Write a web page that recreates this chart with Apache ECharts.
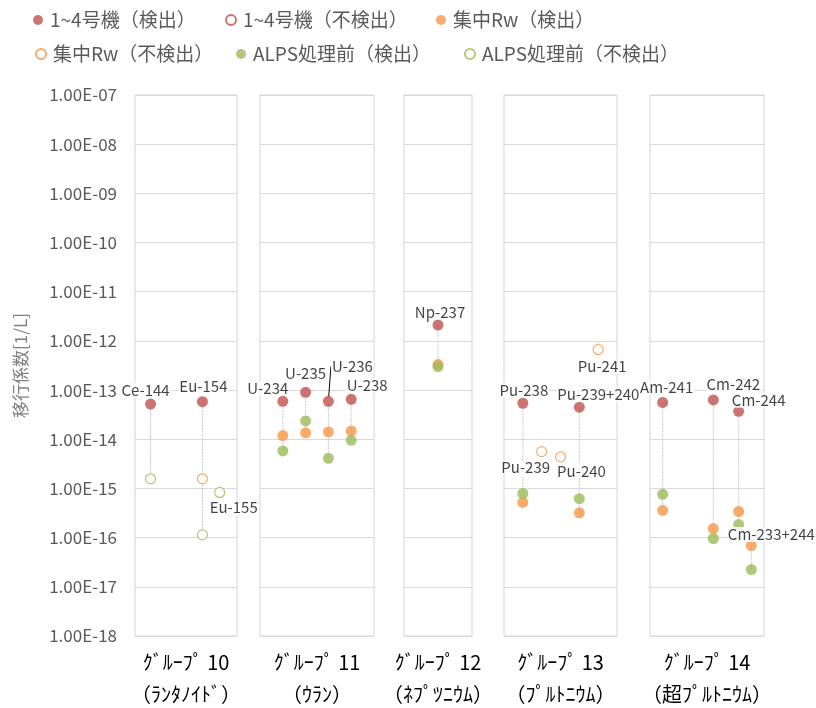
<!DOCTYPE html>
<html><head><meta charset="utf-8">
<script src="https://cdn.jsdelivr.net/npm/echarts@6/dist/echarts.min.js"></script>
<style>html,body{margin:0;padding:0;background:#fff}#c{width:816px;height:708px}</style>
</head><body><div id="c"></div>
<script>
// ---------------- data ----------------
const groupNames = ['ｸﾞﾙｰﾌﾟ 10', 'ｸﾞﾙｰﾌﾟ 11', 'ｸﾞﾙｰﾌﾟ 12', 'ｸﾞﾙｰﾌﾟ 13', 'ｸﾞﾙｰﾌﾟ 14'];
const groupSubNames = ['（ﾗﾝﾀﾉｲﾄﾞ）', '（ｳﾗﾝ）', '（ﾈﾌﾟﾂﾆｳﾑ）', '（ﾌﾟﾙﾄﾆｳﾑ）', '（超ﾌﾟﾙﾄﾆｳﾑ）'];
const nuclides = ['Ce-144', 'Eu-154', 'Eu-155', 'U-234', 'U-235', 'U-236', 'U-238', 'Np-237',
  'Pu-238', 'Pu-239', 'Pu-240', 'Pu-239+240', 'Pu-241', 'Am-241', 'Cm-242', 'Cm-244', 'Cm-233+244'];
const nuclideGroup = [0, 0, 0, 1, 1, 1, 1, 2, 3, 3, 3, 3, 3, 4, 4, 4, 4];
const nuclideSlot = [0, 3, 4, 0, 1, 2, 3, 0, 0, 1, 2, 3, 4, 1, 5, 7, 8];
const units14Detected = [5.2e-14, 5.8e-14, null, 5.9e-14, 9.0e-14, 5.9e-14, 6.5e-14, 2.1e-12,
  5.4e-14, null, null, 4.5e-14, null, 5.6e-14, 6.3e-14, 3.7e-14, null];
const units14NotDetected = [null, null, null, null, null, null, null, null,
  null, null, null, null, null, null, null, null, null];
const rwDetected = [null, null, null, 1.19e-14, 1.35e-14, 1.41e-14, 1.48e-14, 3.3e-13,
  5.2e-16, null, null, 3.2e-16, null, 3.6e-16, 1.53e-16, 3.4e-16, 6.9e-17];
const rwNotDetected = [null, 1.57e-15, null, null, null, null, null, null,
  null, 5.6e-15, 4.4e-15, null, 6.7e-13, null, null, null, null];
const alpsDetected = [null, null, null, 5.8e-15, 2.36e-14, 4.1e-15, 9.5e-15, 3.0e-13,
  7.9e-16, null, null, 6.2e-16, null, 7.6e-16, 9.6e-17, 1.85e-16, 2.25e-17];
const alpsNotDetected = [1.57e-15, 1.14e-16, 8.3e-16, null, null, null, null, null,
  null, null, null, null, null, null, null, null, null];
const yTickLabels = ['1.00E-18', '1.00E-17', '1.00E-16', '1.00E-15', '1.00E-14', '1.00E-13',
  '1.00E-12', '1.00E-11', '1.00E-10', '1.00E-09', '1.00E-08', '1.00E-07'];
const yAxisName = '移行係数[1/L]';

// ---------------- style / layout ----------------
const RED = '#C0504D', ORANGE = '#F79646', GREEN = '#9BBB59';
const FONT = '"Noto Sans CJK JP", "Noto Sans", sans-serif';
const seriesDefs = [
  { name: '1~4号機（検出）', values: units14Detected, color: RED, open: false },
  { name: '1~4号機（不検出）', values: units14NotDetected, color: RED, open: true },
  { name: '集中Rw（検出）', values: rwDetected, color: ORANGE, open: false },
  { name: '集中Rw（不検出）', values: rwNotDetected, color: ORANGE, open: true },
  { name: 'ALPS処理前（検出）', values: alpsDetected, color: GREEN, open: false },
  { name: 'ALPS処理前（不検出）', values: alpsNotDetected, color: GREEN, open: true }
];
const legendPos = [[33, 8], [225, 8], [436, 8], [35, 42], [236, 42], [464, 42]];
const gridBoxes = [[135, 102], [260, 114], [404, 68], [504, 113], [650, 114]];
const groupXRange = [[-0.9, 5], [-1, 4], [-1, 1], [-1, 5], [0, 9]];
const labelOffsets = [[-5, -14], [1, -15], [14, 15], [-15, -13], [0, -19], [24, -35], [16, -14], [2, -13],
  [1, -13], [-16, 16], [21, 14], [19, -13], [4, 17], [4, -15], [20, -16], [20, -11], [20, -11]];
const GRID_TOP = 95, GRID_H = 541;

const lg = v => Math.log10(v);

const grids = [], xAxes = [], yAxes = [], series = [];
gridBoxes.forEach((b, g) => {
  grids.push({ left: b[0], width: b[1], top: GRID_TOP, height: GRID_H, show: true,
    outerBoundsMode: 'none', containLabel: false,
    borderColor: '#d4d4d4', borderWidth: 1, backgroundColor: '#fff' });
  xAxes.push({ type: 'value', gridIndex: g, min: groupXRange[g][0], max: groupXRange[g][1],
    axisLine: { show: false }, axisTick: { show: false }, axisLabel: { show: false }, splitLine: { show: false },
    name: groupNames[g] + '\n' + groupSubNames[g], nameLocation: 'middle', nameGap: 10,
    nameTextStyle: { color: '#000', fontSize: 20, lineHeight: 32, fontFamily: FONT, align: 'center' } });
  yAxes.push({ type: 'value', gridIndex: g, min: -18, max: -7, interval: 1,
    axisLine: { show: false }, axisTick: { show: false },
    axisLabel: { show: g === 0, color: '#595959', fontSize: 17, fontFamily: FONT, margin: 18,
      formatter: v => yTickLabels[Math.round(v) + 18] },
    splitLine: { show: true, lineStyle: { color: '#d9d9d9', width: 1 } },
    name: g === 0 ? yAxisName : '', nameLocation: 'middle', nameGap: 106,
    nameTextStyle: { color: '#7f7f7f', fontSize: 17, fontFamily: FONT } });
});

// connector lines (min to max per nuclide)
gridBoxes.forEach((b, g) => {
  const data = [];
  nuclides.forEach((n, i) => {
    if (nuclideGroup[i] !== g) return;
    const vals = seriesDefs.map(d => d.values[i]).filter(v => v != null);
    if (vals.length < 2) return;
    data.push([nuclideSlot[i], lg(Math.min(...vals)), lg(Math.max(...vals))]);
  });
  series.push({ type: 'custom', xAxisIndex: g, yAxisIndex: g, silent: true, z: 1,
    renderItem: (params, api) => {
      const p1 = api.coord([api.value(0), api.value(1)]);
      const p2 = api.coord([api.value(0), api.value(2)]);
      return { type: 'line', shape: { x1: p1[0], y1: p1[1], x2: p2[0], y2: p2[1] },
        style: { stroke: '#c8c8c8', lineWidth: 1, lineDash: [2, 1] } };
    }, data });
});

// point series
seriesDefs.forEach(d => {
  gridBoxes.forEach((b, g) => {
    const data = [];
    nuclides.forEach((n, i) => {
      if (nuclideGroup[i] === g && d.values[i] != null) data.push([nuclideSlot[i], lg(d.values[i])]);
    });
    series.push({ type: 'scatter', name: d.name, xAxisIndex: g, yAxisIndex: g, z: 3,
      symbol: 'circle', symbolSize: d.open ? 10 : 11,
      itemStyle: d.open ? { color: '#fff', borderColor: d.color, borderWidth: 1.2 } : { color: d.color },
      data });
  });
});

// nuclide labels
gridBoxes.forEach((b, g) => {
  const idx = [];
  const data = [];
  nuclides.forEach((n, i) => {
    if (nuclideGroup[i] !== g) return;
    const vals = seriesDefs.map(d => d.values[i]).filter(v => v != null);
    idx.push(i);
    data.push({ name: n, value: [nuclideSlot[i], lg(Math.max(...vals))],
      labelLine: { show: n === 'U-236' } });
  });
  series.push({ type: 'scatter', xAxisIndex: g, yAxisIndex: g, silent: true, z: 5,
    symbol: 'circle', symbolSize: 10, itemStyle: { color: 'rgba(0,0,0,0)' },
    label: { show: true, position: 'inside', formatter: p => p.name, color: '#111', fontSize: 15,
      fontFamily: FONT, backgroundColor: '#fff', padding: [0, 1] },
    labelLine: { show: false, lineStyle: { color: '#000', width: 1 } },
    labelLayout: p => ({ dx: labelOffsets[idx[p.dataIndex]][0], dy: labelOffsets[idx[p.dataIndex]][1] }),
    data });
});

const legends = seriesDefs.map((d, i) => ({
  data: [d.name], left: legendPos[i][0], top: legendPos[i][1], padding: 0,
  itemWidth: 10, itemHeight: 10, icon: 'circle', selectedMode: false,
  textStyle: { color: '#595959', fontSize: 19, fontFamily: FONT, lineHeight: 24, padding: [0, 0, 0, 2] }
}));

const chart = echarts.init(document.getElementById('c'));
chart.setOption({
  animation: false,
  textStyle: { fontFamily: FONT },
  legend: legends,
  grid: grids, xAxis: xAxes, yAxis: yAxes, series
});
</script></body></html>
